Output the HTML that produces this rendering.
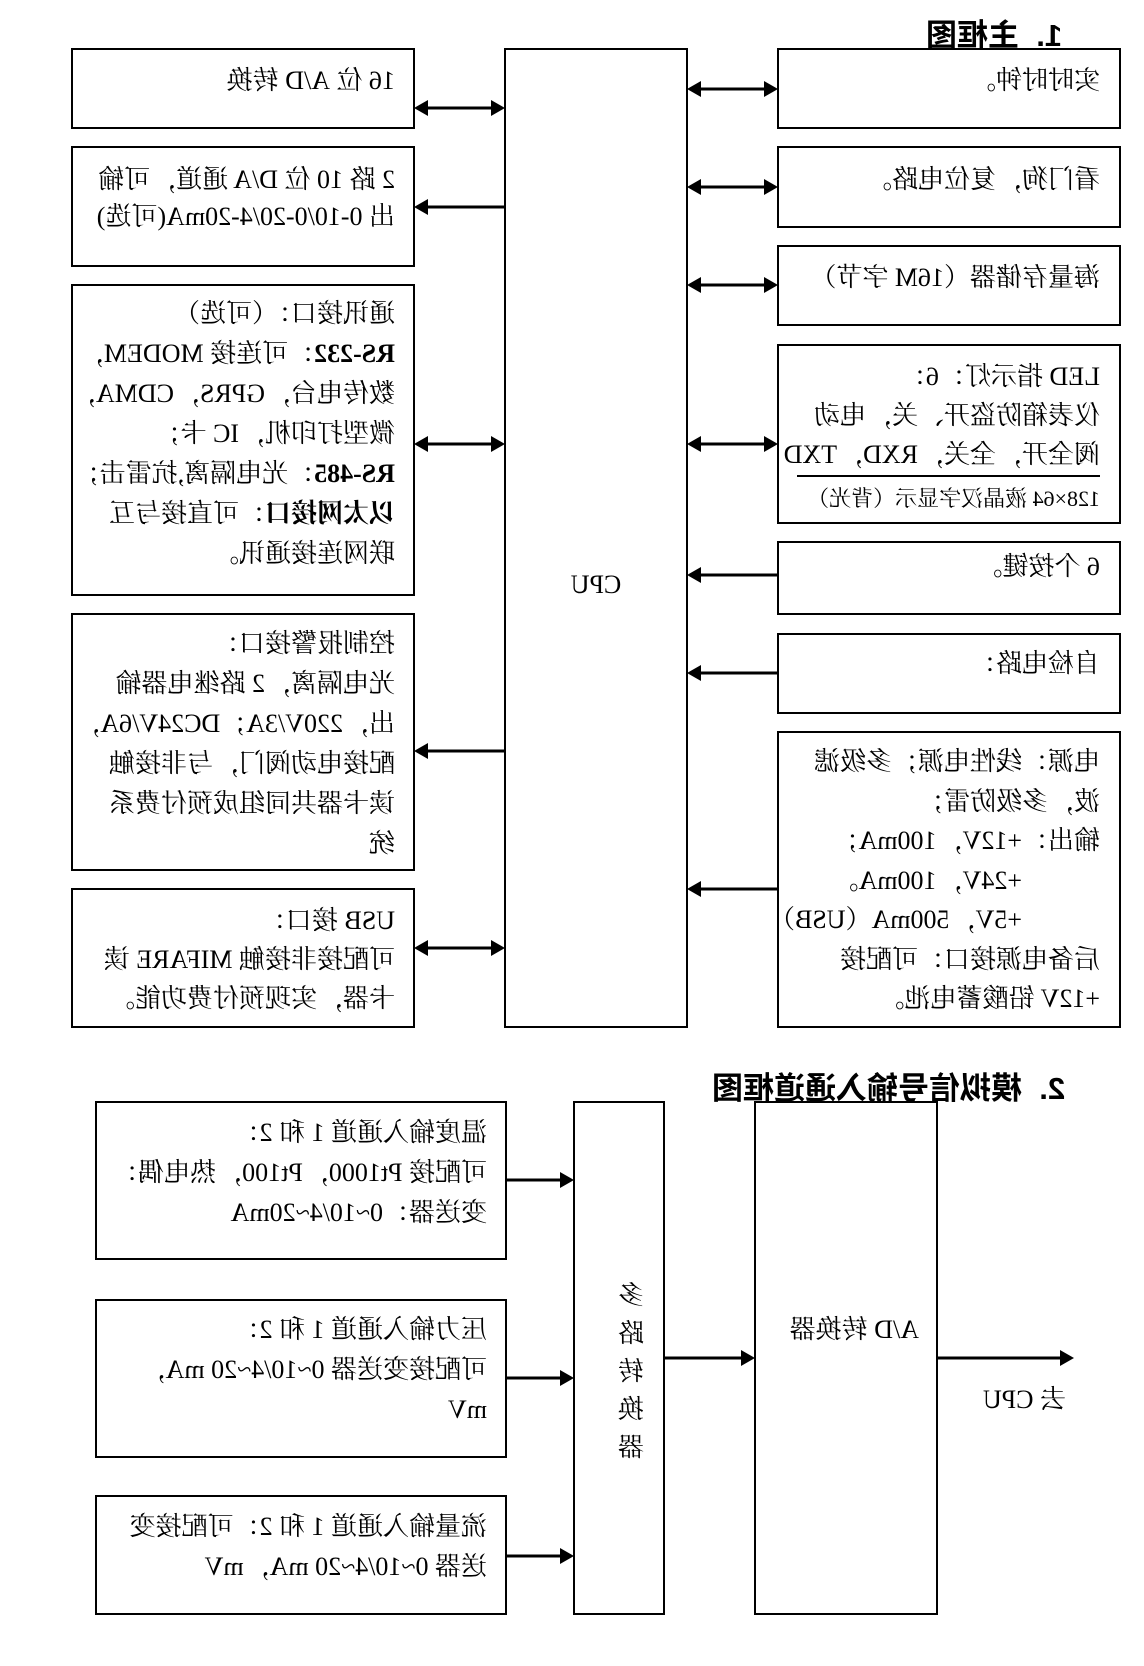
<!DOCTYPE html>
<html><head><meta charset="utf-8"><style>
html,body{margin:0;padding:0;background:#fff;}
body{width:1144px;height:1666px;position:relative;overflow:hidden;font-family:"Liberation Serif","Noto Serif CJK SC",serif;color:#000;}
.t{position:absolute;transform:scaleX(-1);font-size:26px;white-space:nowrap;box-sizing:border-box;padding-left:19px;}
b{font-weight:bold;}
.h{position:absolute;transform:scaleX(-1);font-size:31px;font-weight:bold;white-space:nowrap;font-family:"Liberation Sans","Noto Sans CJK SC",sans-serif;}
svg{position:absolute;left:0;top:0;}
</style></head><body>
<svg width="1144" height="1666" viewBox="0 0 1144 1666">
<g fill="none" stroke="#000" stroke-width="2">
<rect x="72" y="49" width="342" height="79"/>
<rect x="72" y="147" width="342" height="119"/>
<rect x="72" y="285" width="342" height="310"/>
<rect x="72" y="614" width="342" height="256"/>
<rect x="72" y="889" width="342" height="138"/>
<rect x="505" y="49" width="182" height="978"/>
<rect x="778" y="49" width="342" height="79"/>
<rect x="778" y="147" width="342" height="80"/>
<rect x="778" y="246" width="342" height="79"/>
<rect x="778" y="345" width="342" height="178"/>
<rect x="778" y="542" width="342" height="72"/>
<rect x="778" y="634" width="342" height="79"/>
<rect x="778" y="732" width="342" height="295"/>
<rect x="96" y="1102" width="410" height="157"/>
<rect x="96" y="1300" width="410" height="157"/>
<rect x="96" y="1496" width="410" height="118"/>
<rect x="574" y="1102" width="90" height="512"/>
<rect x="755" y="1102" width="182" height="512"/>
</g>
<line x1="797" y1="476" x2="1100" y2="476" stroke="#000" stroke-width="2"/>
<g stroke="#000" stroke-width="3">
<line x1="424" y1="108" x2="495" y2="108"/>
<line x1="424" y1="207" x2="505" y2="207"/>
<line x1="424" y1="444" x2="495" y2="444"/>
<line x1="424" y1="751" x2="505" y2="751"/>
<line x1="424" y1="948" x2="495" y2="948"/>
<line x1="697" y1="89" x2="768" y2="89"/>
<line x1="697" y1="187" x2="768" y2="187"/>
<line x1="697" y1="285" x2="768" y2="285"/>
<line x1="697" y1="444" x2="768" y2="444"/>
<line x1="697" y1="575" x2="778" y2="575"/>
<line x1="697" y1="673" x2="778" y2="673"/>
<line x1="697" y1="889" x2="778" y2="889"/>
<line x1="506" y1="1180" x2="564" y2="1180"/>
<line x1="506" y1="1378" x2="564" y2="1378"/>
<line x1="506" y1="1556" x2="564" y2="1556"/>
<line x1="664" y1="1358" x2="745" y2="1358"/>
<line x1="937" y1="1358" x2="1064" y2="1358"/>
</g>
<g fill="#000">
<polygon points="414,108 428,100 428,116"/><polygon points="505,108 491,100 491,116"/>
<polygon points="414,207 428,199 428,215"/>
<polygon points="414,444 428,436 428,452"/><polygon points="505,444 491,436 491,452"/>
<polygon points="414,751 428,743 428,759"/>
<polygon points="414,948 428,940 428,956"/><polygon points="505,948 491,940 491,956"/>
<polygon points="687,89 701,81 701,97"/><polygon points="778,89 764,81 764,97"/>
<polygon points="687,187 701,179 701,195"/><polygon points="778,187 764,179 764,195"/>
<polygon points="687,285 701,277 701,293"/><polygon points="778,285 764,277 764,293"/>
<polygon points="687,444 701,436 701,452"/><polygon points="778,444 764,436 764,452"/>
<polygon points="687,575 701,567 701,583"/>
<polygon points="687,673 701,665 701,681"/>
<polygon points="687,889 701,881 701,897"/>
<polygon points="574,1180 560,1172 560,1188"/>
<polygon points="574,1378 560,1370 560,1386"/>
<polygon points="574,1556 560,1548 560,1564"/>
<polygon points="755,1358 741,1350 741,1366"/>
<polygon points="1074,1358 1060,1350 1060,1366"/>
</g>
</svg>

<div class="h" style="left:926px;top:10px;">1.&nbsp;&nbsp;主框图</div>
<div class="h" style="left:712px;top:1063px;">2.&nbsp;&nbsp;模拟信号输入通道框图</div>

<div class="t" style="left:72px;top:61px;width:342px;line-height:40px;">16 位 A/D 转换</div>
<div class="t" style="left:72px;top:161px;width:342px;line-height:37px;">2 路 10 位 D/A 通道，可输<br>出 0-10/0-20/4-20mA(可选)</div>
<div class="t" style="left:72px;top:294px;width:342px;line-height:40px;">通讯接口：（可选）<br><b>RS-232</b>：可连接 MODEM，<br>数传电台，GPRS，CDMA，<br>微型打印机，IC 卡；<br><b>RS-485</b>：光电隔离,抗雷击；<br><b>以太网接口</b>：可直接与互<br>联网连接通讯。</div>
<div class="t" style="left:72px;top:624px;width:342px;line-height:40px;">控制报警接口：<br>光电隔离，2 路继电器输<br>出，220V/3A；DC24V/6A，<br>配接电动阀门，与非接触<br>读卡器共同组成预付费系<br>统</div>
<div class="t" style="left:72px;top:901px;width:342px;line-height:39px;">USB 接口：<br>可配接非接触 MIFARE 读<br>卡器，实现预付费功能。</div>
<div class="t" style="left:505px;top:565px;width:182px;line-height:40px;padding-left:0;text-align:center;">CPU</div>

<div class="t" style="left:778px;top:61px;width:342px;line-height:40px;padding-left:20px;">实时时钟。</div>
<div class="t" style="left:778px;top:160px;width:342px;line-height:40px;padding-left:20px;">看门狗，复位电路。</div>
<div class="t" style="left:778px;top:258px;width:342px;line-height:40px;padding-left:20px;">海量存储器（16M 字节）</div>
<div class="t" style="left:778px;top:357px;width:342px;line-height:39px;padding-left:20px;">LED 指示灯：6：<br>仪表箱防盗开、关，电动<br>阀全开，全关，RXD，TXD</div>
<div class="t" style="left:778px;top:485px;width:342px;line-height:28px;padding-left:20px;font-size:22px;">128×64 液晶汉字显示（背光）</div>
<div class="t" style="left:778px;top:547px;width:342px;line-height:40px;padding-left:20px;">6 个按键。</div>
<div class="t" style="left:778px;top:644px;width:342px;line-height:40px;padding-left:20px;">自检电路：</div>
<div class="t" style="left:778px;top:742px;width:342px;line-height:39.5px;padding-left:20px;">电源：线性电源；多级滤<br>波，多级防雷；<br>输出：+12V，100mA；<br><span style="padding-left:78px">+24V，100mA。</span><br><span style="padding-left:78px">+5V，500mA（USB）</span><br>后备电源接口：可配接<br>+12V 铅酸蓄电池。</div>

<div class="t" style="left:96px;top:1113px;width:410px;line-height:40px;">温度输入通道 1 和 2：<br>可配接 Pt1000，Pt100，热电偶：<br>变送器：0~10/4~20mA</div>
<div class="t" style="left:96px;top:1310px;width:410px;line-height:40px;">压力输入通道 1 和 2：<br>可配接变送器 0~10/4~20 mA，<br>mV</div>
<div class="t" style="left:96px;top:1507px;width:410px;line-height:40px;">流量输入通道 1 和 2：可配接变<br>送器 0~10/4~20 mA，mV</div>
<div class="t" style="left:574px;top:1277px;width:90px;line-height:38px;padding-left:20px;white-space:normal;">多<br>路<br>转<br>换<br>器</div>
<div class="t" style="left:755px;top:1310px;width:182px;line-height:40px;padding-left:18px;">A/D 转换器</div>
<div class="t" style="left:975px;top:1380px;width:110px;line-height:40px;padding-left:19px;">去 CPU</div>
</body></html>
